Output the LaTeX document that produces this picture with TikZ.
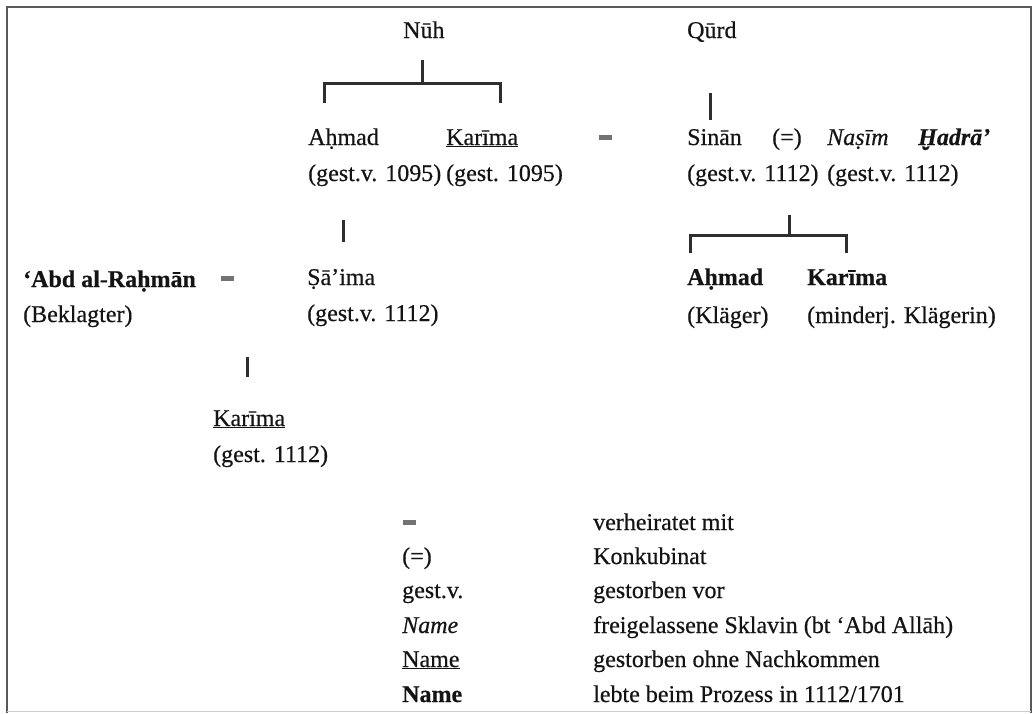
\documentclass[tikz,border=0pt]{standalone}
\usepackage{fontspec}
\setmainfont[FakeBold=0.5]{Liberation Serif}
\begin{document}
\begin{tikzpicture}[x=1pt,y=-1pt,
  lbl/.style={anchor=base west, inner sep=0pt, font=\fontsize{24}{28}\selectfont, text=black!92},
  conn/.style={line width=3pt, draw=black!82},
  marr/.style={rectangle, fill=black!55, draw=none, minimum width=13pt, minimum height=5pt, inner sep=0pt},
  frame/.style={line width=2pt, draw=black!65}]
\useasboundingbox (0,0) rectangle (1036,713);
\draw[frame] (7,713) -- (7,7) -- (1031,7) -- (1031,713);
\draw[line width=1pt, draw=black!20] (7,711) -- (1031,711);
% generation 1
\node[lbl] (nuh) at (403,38) {Nūh};
\node[lbl] (qurd) at (687,38) {Qūrd};
% generation 2
\node[lbl] (ahmad1) at (308,145) {Aḥmad};
\node[lbl] (karima1) at (446,145) {\underline{Karīma}};
\node[lbl] (ahmad1d) at (308,181) {(gest.v. 1095)};
\node[lbl] (karima1d) at (446,181) {(gest. 1095)};
\node[marr] (m1) at (605,137) {};
\node[lbl] (sinan) at (687,145) {Sinān};
\node[lbl] (konk) at (772,145) {(=)};
\node[lbl] (nasim) at (827,145) {\textit{Naṣīm}};
\node[lbl] (hadra) at (918,145) {\textbf{\textit{Ḫadrā’}}};
\node[lbl] (sinand) at (687,181) {(gest.v. 1112)};
\node[lbl] (nasimd) at (827,181) {(gest.v. 1112)};
% generation 3
\node[lbl] (abd) at (23,287) {\textbf{‘Abd al-Raḥmān}};
\node[lbl] (abdd) at (23,322) {(Beklagter)};
\node[marr] (m2) at (227,278) {};
\node[lbl] (saima) at (307,285) {Ṣā’ima};
\node[lbl] (saimad) at (307,321) {(gest.v. 1112)};
\node[lbl] (ahmad2) at (687,285) {\textbf{Aḥmad}};
\node[lbl] (ahmad2d) at (687,323) {(Kläger)};
\node[lbl] (karima2) at (807,285) {\textbf{Karīma}};
\node[lbl] (karima2d) at (807,323) {(minderj. Klägerin)};
% generation 4
\node[lbl] (karima3) at (213,426) {\underline{Karīma}};
\node[lbl] (karima3d) at (213,462) {(gest. 1112)};
% legend
\node[marr] (lm) at (409,522) {};
\node[lbl] (lt1) at (593,530) {verheiratet mit};
\node[lbl] (lk2) at (402,564) {(=)};
\node[lbl] (lt2) at (593,564) {Konkubinat};
\node[lbl] (lk3) at (402,598) {gest.v.};
\node[lbl] (lt3) at (593,598) {gestorben vor};
\node[lbl] (lk4) at (402,633) {\textit{Name}};
\node[lbl] (lt4) at (593,633) {freigelassene Sklavin (bt ‘Abd Allāh)};
\node[lbl] (lk5) at (402,667) {\underline{Name}};
\node[lbl] (lt5) at (593,667) {gestorben ohne Nachkommen};
\node[lbl] (lk6) at (402,702) {\textbf{Name}};
\node[lbl] (lt6) at (593,702) {lebte beim Prozess in 1112/1701};
% connectors
\coordinate (nuhT) at (422,60);
\coordinate (nuhJ) at (422,83);
\coordinate (nuhL) at (324,83);
\coordinate (nuhLb) at (324,103);
\coordinate (nuhR) at (500,83);
\coordinate (nuhRb) at (500,103);
\draw[conn] (nuhT) -- (nuhJ);
\draw[conn] (nuhLb) -- (nuhL) -- (nuhR) -- (nuhRb);
\coordinate (qurdT) at (710,93);
\coordinate (qurdB) at (710,120);
\draw[conn] (qurdT) -- (qurdB);
\coordinate (ahT) at (343,220);
\coordinate (ahB) at (343,242);
\draw[conn] (ahT) -- (ahB);
\coordinate (siT) at (789,215);
\coordinate (siJ) at (789,235);
\coordinate (siL) at (690,235);
\coordinate (siLb) at (690,253);
\coordinate (siR) at (846,235);
\coordinate (siRb) at (846,253);
\draw[conn] (siT) -- (siJ);
\draw[conn] (siLb) -- (siL) -- (siR) -- (siRb);
\coordinate (abT) at (247,357);
\coordinate (abB) at (247,377);
\draw[conn] (abT) -- (abB);
\end{tikzpicture}
\end{document}
